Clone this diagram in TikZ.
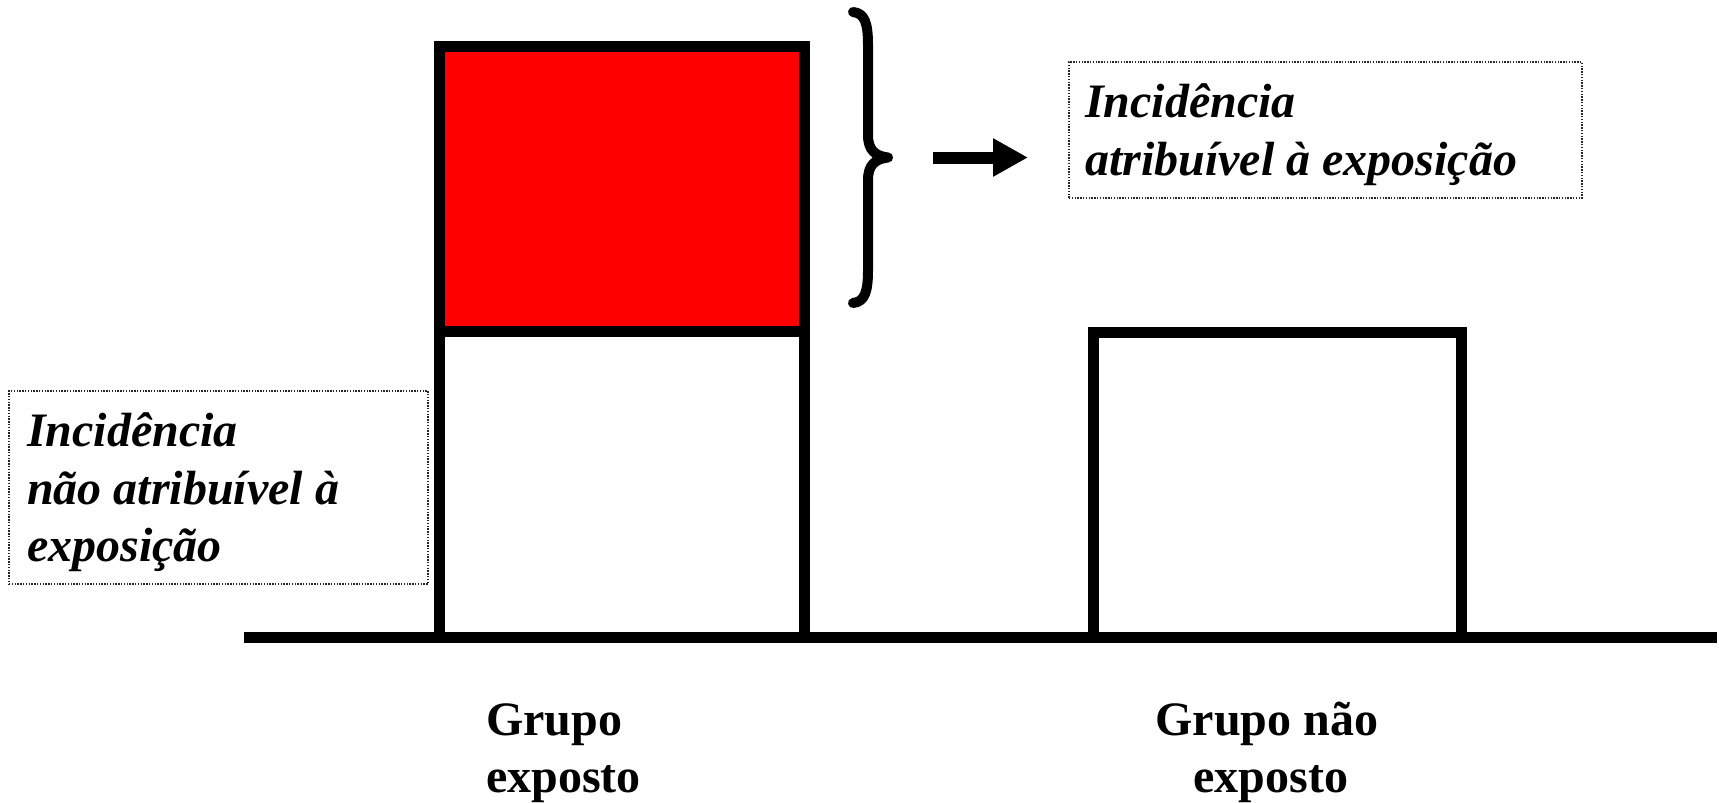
\documentclass[tikz,border=0pt]{standalone}
\usepackage{fontspec}
\setmainfont{Liberation Serif}
\usetikzlibrary{arrows.meta}
\tikzset{
  thick bar/.style={draw=black, line width=11pt, inner sep=0pt, outer sep=0pt, rectangle},
  dotbox/.style={draw=black!85, line width=1.1pt, dash pattern=on 1.4pt off 1.4pt, inner sep=0pt, outer sep=0pt, rectangle},
  ital/.style={font=\fontsize{48}{58}\selectfont\bfseries\itshape, inner sep=0pt, anchor=base west},
  grp/.style={font=\fontsize{48}{58}\selectfont\bfseries, inner sep=0pt, anchor=base},
}
\begin{document}
\begin{tikzpicture}[x=1pt,y=-1pt]
\useasboundingbox (0,0) rectangle (1719,803);
% baseline
\coordinate (bl1) at (244,637);
\coordinate (bl2) at (1717,637);
\draw[line width=11pt] (bl1) -- (bl2);
% exposed group
\node[thick bar, fill=white, minimum width=365pt, minimum height=306pt, anchor=north west] (lowE) at (439,331) {};
\node[thick bar, fill=red, minimum width=365pt, minimum height=285pt, anchor=north west] (redE) at (439,46) {};
% non exposed group
\node[thick bar, fill=white, minimum width=368pt, minimum height=305pt, anchor=north west] (boxN) at (1093,332) {};
% brace
\draw[line width=10pt, line cap=round, line join=round]
  (853,12) .. controls (865,13) and (868,24) .. (868,45) -- (868,135)
  .. controls (868,150) and (875,156) .. (888,157.5)
  .. controls (875,159) and (868,165) .. (868,180) -- (868,270)
  .. controls (868,291) and (865,302) .. (853,303);
\coordinate (brtip) at (888,157.5);
% arrow
\coordinate (arS) at (933,157.5);
\coordinate (arE) at (1028,157.5);
\draw[line width=12pt, -{Triangle[length=35pt,width=36pt]}] (arS) -- (arE);
% right label
\node[dotbox, minimum width=513pt, minimum height=136pt, anchor=north west] (labA) at (1069,62) {};
\node[ital] (labA1) at (1085,117) {Incidência};
\node[ital] (labA2) at (1085,175) {atribuível à exposição};
% left label
\node[dotbox, minimum width=419pt, minimum height=193pt, anchor=north west] (labB) at (9,391) {};
\node[ital] (labB1) at (27,446) {Incidência};
\node[ital] (labB2) at (27,504) {não atribuível à};
\node[ital] (labB3) at (27,561) {exposição};
% group labels
\node[grp, anchor=base west] (g1a) at (486,735) {Grupo};
\node[grp, anchor=base west] (g1b) at (486,792) {exposto};
\node[grp] (g2a) at (1267,735) {Grupo não};
\node[grp] (g2b) at (1271,792) {exposto};
\end{tikzpicture}
\end{document}
